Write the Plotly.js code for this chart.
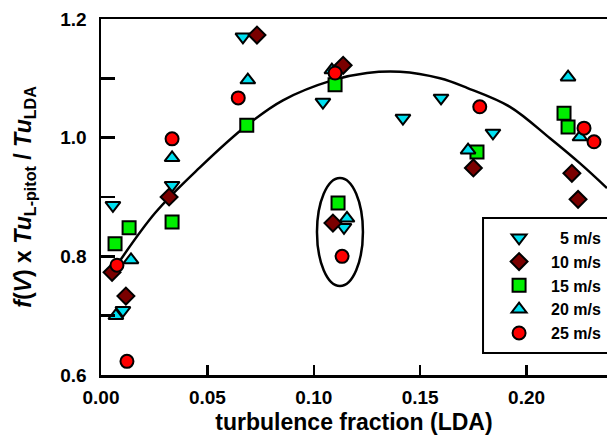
<!DOCTYPE html>
<html>
<head>
<meta charset="utf-8">
<script src="https://cdn.plot.ly/plotly-3.0.1.min.js"></script>
<style>html,body{margin:0;padding:0;background:#fff;}#chart{width:607px;height:438px;}</style>
</head>
<body>
<div id="chart"></div>
<script>
// Series: 5 m/s
const x5 = [0.0056, 0.0103, 0.0334, 0.0667, 0.1043, 0.1142, 0.1419, 0.1598, 0.1842];
const y5 = [0.886, 0.709, 0.920, 1.170, 1.060, 0.849, 1.033, 1.067, 1.008];
// 10 m/s
const x10 = [0.0052, 0.0117, 0.0320, 0.0733, 0.1138, 0.1090, 0.1750, 0.2213, 0.2242];
const y10 = [0.773, 0.733, 0.900, 1.173, 1.122, 0.856, 0.949, 0.940, 0.896];
// 15 m/s
const x15 = [0.0066, 0.0132, 0.0334, 0.0685, 0.1100, 0.1114, 0.1767, 0.2176, 0.2195];
const y15 = [0.821, 0.848, 0.858, 1.021, 1.089, 0.890, 0.976, 1.041, 1.018];
// 20 m/s
const x20 = [0.0070, 0.0141, 0.0334, 0.0690, 0.1085, 0.1156, 0.1725, 0.2195, 0.2251];
const y20 = [0.700, 0.794, 0.966, 1.097, 1.114, 0.864, 0.979, 1.102, 1.001];
// 25 m/s
const x25 = [0.0075, 0.0122, 0.0334, 0.0645, 0.1100, 0.1133, 0.1780, 0.2270, 0.2317];
const y25 = [0.785, 0.623, 0.998, 1.067, 1.109, 0.800, 1.052, 1.016, 0.993];
// fit curve
const fitX = [0.0050, 0.0254, 0.0465, 0.0686, 0.0855, 0.1090, 0.1250, 0.1405, 0.1593, 0.1720, 0.1922, 0.2110, 0.2250, 0.2378];
const fitY = [0.772, 0.873, 0.950, 1.021, 1.063, 1.097, 1.109, 1.111, 1.100, 1.084, 1.052, 0.999, 0.957, 0.915];
// ellipse around cluster
const ellX = [0.1015, 0.1231];
const ellY = [0.750, 0.932];
// legend labels
const labels = ['\u20075 m/s', '10 m/s', '15 m/s', '20 m/s', '25 m/s'];
// axis ticks
const xTicks = [0, 0.05, 0.10, 0.15, 0.20];
const xTickText = ['0.00', '0.05', '0.10', '0.15', '0.20'];
const yTicks = [0.6, 0.8, 1.0, 1.2];
const yTickText = ['0.6', '0.8', '1.0', '1.2'];

const FONT = 'Liberation Sans, Arial, sans-serif';
const mk = (sym, col) => ({symbol: sym, size: 13, color: col, line: {color: '#000', width: 2}});

const traces = [
  {x: fitX, y: fitY, mode: 'lines', line: {color: '#000', width: 2.5, shape: 'spline', smoothing: 1}, showlegend: false, hoverinfo: 'skip'},
  {x: x5, y: y5, mode: 'markers', name: labels[0], marker: mk('triangle-down', '#00e0f0')},
  {x: x10, y: y10, mode: 'markers', name: labels[1], marker: mk('diamond', '#7a0000')},
  {x: x15, y: y15, mode: 'markers', name: labels[2], marker: mk('square', '#00ee00')},
  {x: x20, y: y20, mode: 'markers', name: labels[3], marker: mk('triangle-up', '#00e0f0')},
  {x: x25, y: y25, mode: 'markers', name: labels[4], marker: mk('circle', '#ff0000')}
];

const layout = {
  width: 607, height: 438,
  margin: {l: 101, r: 0, t: 19, b: 63},
  paper_bgcolor: '#fff', plot_bgcolor: '#fff',
  font: {family: FONT, size: 17, color: '#000', weight: 'bold'},
  xaxis: {
    range: [0, 0.2378], showgrid: false, zeroline: false,
    showline: true, linecolor: '#000', linewidth: 2.5, mirror: true,
    ticks: 'inside', ticklen: 10, tickwidth: 2.5, tickcolor: '#000',
    tickvals: xTicks, ticktext: xTickText, ticklabelstandoff: 4,
    tickfont: {family: FONT, size: 19, weight: 'bold'},
    title: {text: 'turbulence fraction (LDA)', font: {family: FONT, size: 23, weight: 'bold'}, standoff: 7}
  },
  yaxis: {
    range: [0.6, 1.2], showgrid: false, zeroline: false,
    showline: true, linecolor: '#000', linewidth: 2.5,
    ticks: 'inside', ticklen: 14, tickwidth: 2.5, tickcolor: '#000',
    tickvals: yTicks, ticktext: yTickText, ticklabelstandoff: 8,
    minor: {dtick: 0.1, tick0: 0.6, ticks: 'inside', ticklen: 14, tickwidth: 2.5, tickcolor: '#000', showgrid: false},
    tickfont: {family: FONT, size: 19, weight: 'bold'},
    title: {text: '<i>f</i>(<i>V</i>) x <i>Tu</i><sub>L-pitot</sub> / <i>Tu</i><sub>LDA</sub>', font: {family: FONT, size: 23, weight: 'bold'}, standoff: 22}
  },
  shapes: [
    {type: 'circle', xref: 'x', yref: 'y', x0: ellX[0], x1: ellX[1], y0: ellY[0], y1: ellY[1], line: {color: '#000', width: 2.5}, layer: 'below'},
    {type: 'rect', xref: 'paper', yref: 'paper', x0: 0.755, x1: 1.05, y0: 0.062, y1: 0.441, line: {color: '#000', width: 2}, fillcolor: '#fff', layer: 'below'}
  ],
  legend: {
    x: 0.763, y: 0.433, xanchor: 'left', yanchor: 'top',
    bgcolor: 'rgba(0,0,0,0)', borderwidth: 0,
    font: {family: FONT, size: 16, weight: 'bold'},
    tracegroupgap: 0, itemwidth: 54
  },
  showlegend: true
};

Plotly.newPlot('chart', traces, layout, {displayModeBar: false, staticPlot: true});
</script>
</body>
</html>
